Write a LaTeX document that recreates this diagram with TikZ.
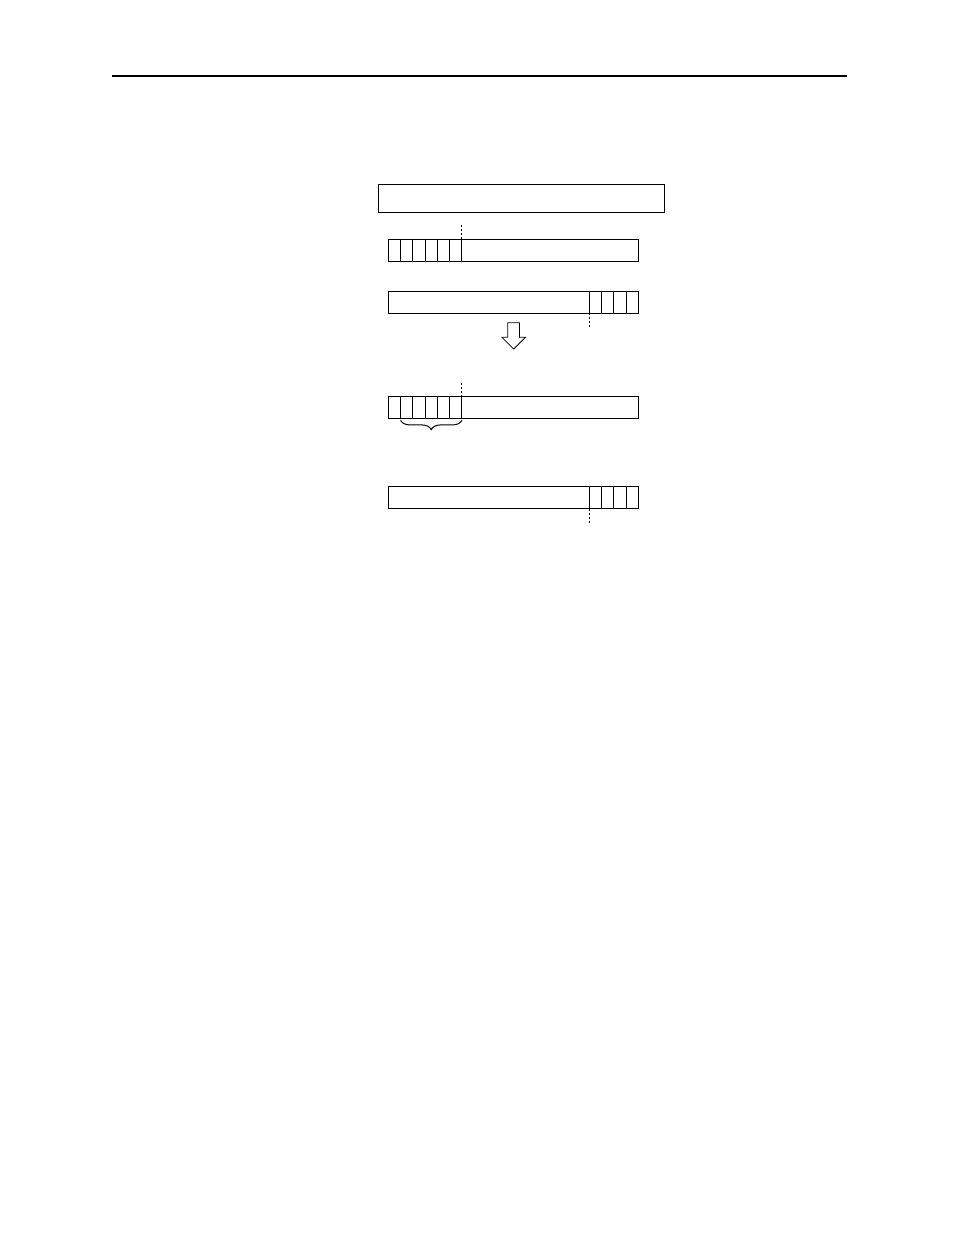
\documentclass[tikz,border=0pt]{standalone}
\usetikzlibrary{shapes,arrows,positioning,decorations.pathreplacing}
\tikzstyle{cmdbox} = [rectangle, minimum width=214.8pt, minimum height=20.8pt, inner sep=0pt, outer sep=0pt, draw=black, line width=0.75pt]
\tikzstyle{regbox} = [rectangle, minimum width=187.5pt, minimum height=16.3pt, inner sep=0pt, outer sep=0pt, draw=black, line width=0.75pt]
\tikzstyle{cell} = [rectangle, minimum width=9.2pt, minimum height=16.3pt, inner sep=0pt, outer sep=0pt, draw=black, line width=0.75pt]
\tikzstyle{dots} = [line width=0.75pt, dash pattern=on 1.5pt off 1.5pt]
\tikzstyle{downarrow} = [single arrow, draw=black, line width=0.6pt, inner sep=4.1pt, single arrow head extend=4.5pt, minimum height=19.8pt, rotate=-90, anchor=tail]

\begin{document}
\begin{tikzpicture}[x=0.75pt, y=-0.75pt, node distance=0pt]
	\useasboundingbox (0,0) rectangle (954,1235);
	% header rule
	\draw[line width=1.5pt] (112,75.7) -- (847,75.7);
	\node (cmd) [cmdbox] at (521.5,198.2) {};
	% first pair
	\node (reg1) [regbox] at (513.3,250.3) {};
	\node (a1) [cell, right=0pt of reg1.west] {};
	\foreach \i [count=\j from 2] in {1,...,5}
		\node (a\j) [cell, right=0pt of a\i] {};
	\node (reg2) [regbox] at (513.3,302.3) {};
	\node (b4) [cell, left=0pt of reg2.east] {};
	\foreach \i/\j in {4/3,3/2,2/1}
		\node (b\j) [cell, left=0pt of b\i] {};
	\coordinate [above=10.5pt of a6.north east] (m1);
	\coordinate [below=10.5pt of b1.south west] (m2);
	\draw [dots] (a6.north east) -- (m1);
	\draw [dots] (b1.south west) -- (m2);
	\node (arr) [downarrow] at (513.7,322.3) {};
	% second pair
	\node (reg3) [regbox] at (513.3,407.8) {};
	\node (c1) [cell, right=0pt of reg3.west] {};
	\foreach \i [count=\j from 2] in {1,...,5}
		\node (c\j) [cell, right=0pt of c\i] {};
	\node (reg4) [regbox] at (513.3,497.8) {};
	\node (d4) [cell, left=0pt of reg4.east] {};
	\foreach \i/\j in {4/3,3/2,2/1}
		\node (d\j) [cell, left=0pt of d\i] {};
	\coordinate [above=10.5pt of c6.north east] (m3);
	\coordinate [below=10.5pt of d1.south west] (m4);
	\draw [dots] (c6.north east) -- (m3);
	\draw [dots] (d1.south west) -- (m4);
	\draw [decorate, decoration={brace, mirror, amplitude=7pt, raise=1.2pt}, line width=0.75pt] (c2.south west) -- (c6.south east);
\end{tikzpicture}
\end{document}
